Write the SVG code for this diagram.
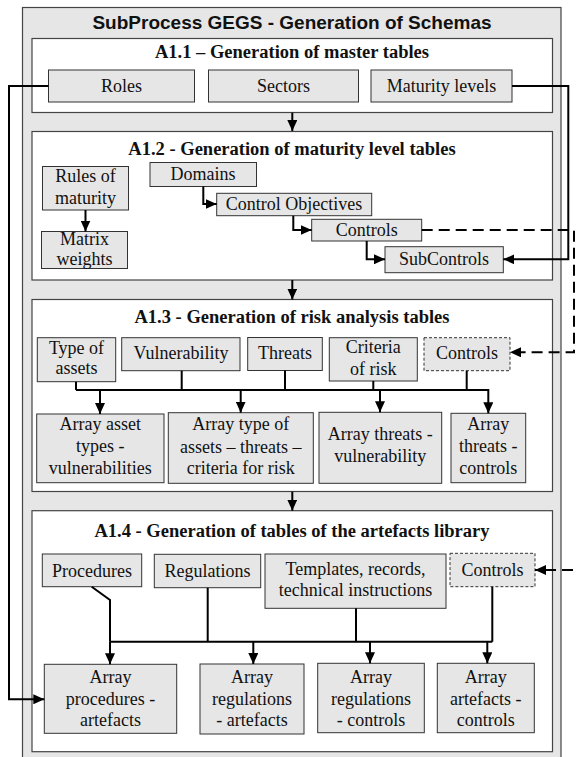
<svg xmlns="http://www.w3.org/2000/svg" width="579" height="757" viewBox="0 0 579 757">
<style>
.outer{fill:#e6e6e6;stroke:#444;stroke-width:1.2}
.sub{fill:#fff;stroke:#444;stroke-width:1.2}
.n{fill:#e6e6e6;stroke:#333;stroke-width:1}
.nd{fill:#e6e6e6;stroke:#333;stroke-width:1;stroke-dasharray:3,2}
.t{font-family:"Liberation Serif","Times New Roman",serif;font-size:18px;fill:#111;text-anchor:middle}
.h{font-family:"Liberation Serif","Times New Roman",serif;font-size:18.5px;font-weight:bold;fill:#111;text-anchor:middle}
.mt{font-family:"Liberation Sans",Arial,sans-serif;font-size:19px;font-weight:bold;fill:#111;text-anchor:middle}
.c{fill:none;stroke:#000;stroke-width:2}
.ca{fill:none;stroke:#000;stroke-width:2;marker-end:url(#ah)}
.cd{fill:none;stroke:#000;stroke-width:2;stroke-dasharray:11,6;marker-end:url(#ah)}
</style>
<defs>
<marker id="ah" markerUnits="userSpaceOnUse" markerWidth="12" markerHeight="10" refX="11" refY="5" orient="auto">
<path d="M0,0 L11,5 L0,10 z" fill="#000"/>
</marker>
</defs>
<g id="subprocess">
<rect class="outer" x="22.5" y="7.5" width="538.5" height="760"/>
<text class="mt" x="292" y="29">SubProcess GEGS - Generation of Schemas</text>
</g>
<g id="A1.1">
<rect class="sub" x="32" y="38.5" width="520.5" height="74"/>
<text class="h" x="292" y="58">A1.1 – Generation of master tables</text>
</g>
<g id="A1.2">
<rect class="sub" x="32" y="131.5" width="520.5" height="148.5"/>
<text class="h" x="292" y="155">A1.2 - Generation of maturity level tables</text>
</g>
<g id="A1.3">
<rect class="sub" x="32" y="299.5" width="520.5" height="192"/>
<text class="h" x="292" y="323">A1.3 - Generation of risk analysis tables</text>
</g>
<g id="A1.4">
<rect class="sub" x="32" y="510.7" width="520.5" height="241"/>
<text class="h" x="292" y="537">A1.4 - Generation of tables of the artefacts library</text>
</g>
<g id="roles"><rect class="n" x="48.5" y="70" width="146" height="32"/><text class="t" x="121.5" y="92">Roles</text></g>
<g id="sectors"><rect class="n" x="208.5" y="70" width="150" height="32"/><text class="t" x="283.5" y="92">Sectors</text></g>
<g id="maturity-levels"><rect class="n" x="371" y="70" width="141" height="32"/><text class="t" x="441.5" y="92">Maturity levels</text></g>
<g id="rules-of-maturity"><rect class="n" x="42.5" y="166.5" width="86" height="43.5"/><text class="t" x="85.5" y="182">Rules of</text><text class="t" x="85.5" y="204">maturity</text></g>
<g id="matrix-weights"><rect class="n" x="41.5" y="231.5" width="86" height="37"/><text class="t" x="84.5" y="245">Matrix</text><text class="t" x="84.5" y="265">weights</text></g>
<g id="domains"><rect class="n" x="150" y="162.5" width="106.5" height="24"/><text class="t" x="203" y="180">Domains</text></g>
<g id="control-objectives"><rect class="n" x="216.7" y="193.3" width="155" height="22.4"/><text class="t" x="294" y="210">Control Objectives</text></g>
<g id="controls-12"><rect class="n" x="311.7" y="219.3" width="110" height="21.7"/><text class="t" x="366.7" y="236">Controls</text></g>
<g id="subcontrols"><rect class="n" x="385" y="246.7" width="118.3" height="26"/><text class="t" x="444" y="265">SubControls</text></g>
<g id="type-of-assets"><rect class="n" x="37.3" y="337.7" width="78.4" height="44"/><text class="t" x="76.5" y="353.5">Type of</text><text class="t" x="76.5" y="374">assets</text></g>
<g id="vulnerability"><rect class="n" x="121.7" y="337.7" width="118.3" height="33"/><text class="t" x="181" y="359">Vulnerability</text></g>
<g id="threats"><rect class="n" x="247.7" y="337.5" width="74.6" height="33"/><text class="t" x="285" y="359">Threats</text></g>
<g id="criteria-of-risk"><rect class="n" x="329.3" y="337.7" width="88" height="43.3"/><text class="t" x="373.3" y="353">Criteria</text><text class="t" x="373.3" y="375">of risk</text></g>
<g id="controls-13"><rect class="nd" x="424" y="337.7" width="86" height="33"/><text class="t" x="467" y="359">Controls</text></g>
<g id="array-asset-types"><rect class="n" x="36.7" y="414" width="127.3" height="68.7"/><text class="t" x="100.3" y="430">Array asset</text><text class="t" x="100.3" y="452">types -</text><text class="t" x="100.3" y="474">vulnerabilities</text></g>
<g id="array-type-of-assets"><rect class="n" x="168.3" y="412.7" width="145" height="70.6"/><text class="t" x="240.8" y="430">Array type of</text><text class="t" x="240.8" y="452.5">assets – threats –</text><text class="t" x="240.8" y="474">criteria for risk</text></g>
<g id="array-threats-vulnerability"><rect class="n" x="319" y="412.3" width="122.7" height="71"/><text class="t" x="380.3" y="440">Array threats -</text><text class="t" x="380.3" y="462">vulnerability</text></g>
<g id="array-threats-controls"><rect class="n" x="451" y="413.3" width="74.7" height="69.4"/><text class="t" x="488.3" y="429.5">Array</text><text class="t" x="488.3" y="452">threats -</text><text class="t" x="488.3" y="474">controls</text></g>
<g id="procedures"><rect class="n" x="42.3" y="554" width="99.4" height="32.7"/><text class="t" x="92" y="577">Procedures</text></g>
<g id="regulations"><rect class="n" x="154.3" y="554.3" width="106.4" height="33.4"/><text class="t" x="207.5" y="577">Regulations</text></g>
<g id="templates"><rect class="n" x="265" y="554" width="181" height="54.3"/><text class="t" x="355.5" y="574.5">Templates, records,</text><text class="t" x="355.5" y="596">technical instructions</text></g>
<g id="controls-14"><rect class="nd" x="450" y="553.3" width="85" height="33.4"/><text class="t" x="492.5" y="576">Controls</text></g>
<g id="array-procedures-artefacts"><rect class="n" x="44.3" y="664.3" width="132.4" height="69"/><text class="t" x="110.5" y="683">Array</text><text class="t" x="110.5" y="704.5">procedures -</text><text class="t" x="110.5" y="725.5">artefacts</text></g>
<g id="array-regulations-artefacts"><rect class="n" x="200" y="664" width="104" height="70"/><text class="t" x="252" y="683">Array</text><text class="t" x="252" y="704.5">regulations</text><text class="t" x="252" y="725.5">- artefacts</text></g>
<g id="array-regulations-controls"><rect class="n" x="317.7" y="663.3" width="106.6" height="69.4"/><text class="t" x="371" y="683">Array</text><text class="t" x="371" y="704.5">regulations</text><text class="t" x="371" y="725.5">- controls</text></g>
<g id="array-artefacts-controls"><rect class="n" x="437.3" y="663.3" width="97" height="69.4"/><text class="t" x="485.8" y="683">Array</text><text class="t" x="485.8" y="704.5">artefacts -</text><text class="t" x="485.8" y="725.5">controls</text></g>
<g id="connectors">
<path class="ca" d="M292.3,112.7 V131"/>
<path class="ca" d="M292.3,280 V299.5"/>
<path class="ca" d="M292.3,491.7 V510.7"/>
<path class="ca" d="M48.5,86 H9 V699.3 H44.3"/>
<path class="ca" d="M512,86 H568.3 V259.3 H503.3"/>
<path class="ca" d="M85.5,210 V231.5"/>
<path class="ca" d="M203.3,186.5 V204 H216.7"/>
<path class="ca" d="M293.3,215.7 V230 H311.7"/>
<path class="ca" d="M366.7,241 V259.3 H385"/>
<path class="cd" d="M421.7,230 H574 V352.3 H510"/>
<path class="c" d="M76,381.7 V390 M181.7,370.7 V390 M285,370.5 V390 M373.3,381 V390 M466.7,370.7 V390 M76,390 H488.3"/>
<path class="ca" d="M488.3,389 V413.3"/>
<path class="ca" d="M100,390 V414"/>
<path class="ca" d="M240.7,390 V412.7"/>
<path class="ca" d="M380,390 V412.3"/>
<path class="c" d="M91.7,586.7 L110,600 V641.7 M207.7,587.7 V641.7 M356,608.3 V641.7 M492.3,586.7 V641.7 M110,641.7 H492.3"/>
<path class="ca" d="M110,641.7 V664.3"/>
<path class="ca" d="M253.3,641.7 V664"/>
<path class="ca" d="M370,641.7 V663.3"/>
<path class="ca" d="M487.3,641.7 V663.3"/>
<path class="cd" d="M573,570 H535"/>
</g>
</svg>
